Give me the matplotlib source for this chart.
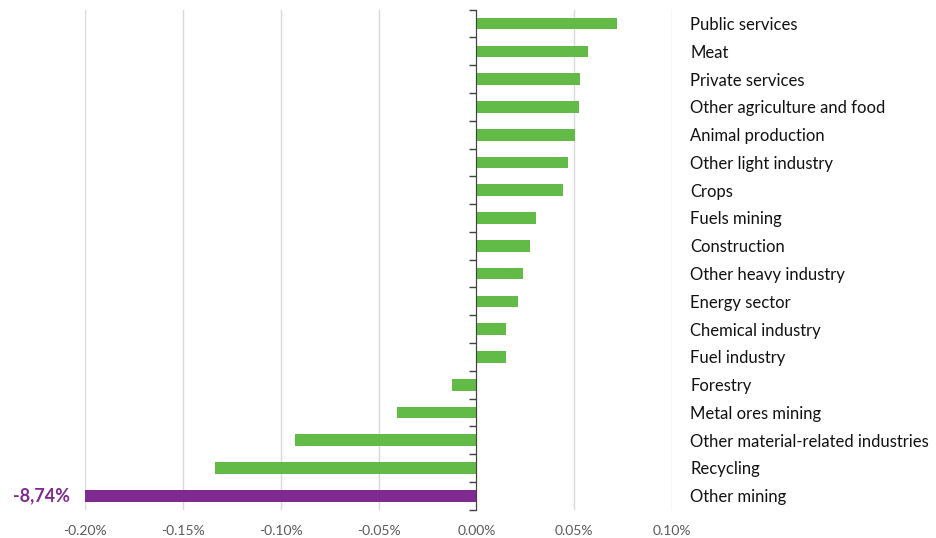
import numpy as np
import matplotlib.pyplot as plt

# Sector impacts, % change (top to bottom)
sectors = ['Public services', 'Meat', 'Private services', 'Other agriculture and food',
           'Animal production', 'Other light industry', 'Crops', 'Fuels mining',
           'Construction', 'Other heavy industry', 'Energy sector', 'Chemical industry',
           'Fuel industry', 'Forestry', 'Metal ores mining',
           'Other material-related industries', 'Recycling', 'Other mining']
values = [0.0720, 0.0572, 0.0531, 0.0524, 0.0502, 0.0469, 0.0441, 0.0305,
          0.0275, 0.0239, 0.0213, 0.0154, 0.0150, -0.0126, -0.0405,
          -0.0925, -0.1338, -8.74]
xticks = [-0.20, -0.15, -0.10, -0.05, 0.0, 0.05, 0.10]

green = '#62BB46'
purple = '#7F2A8E'
colors = [green] * (len(values) - 1) + [purple]

plt.rcParams['font.family'] = ['Lato', 'DejaVu Sans']

fig = plt.figure(figsize=(9.37, 5.38), dpi=100)
ax = fig.add_axes([0.0907, 0.0526, 0.6265, 0.9294])

y = np.arange(len(sectors))
ax.barh(y, values, height=0.42, color=colors, zorder=2)

ax.set_xlim(-0.20, 0.10)
ax.set_ylim(len(sectors) - 0.5, -0.5)

ax.set_xticks(xticks)
ax.set_xticklabels([f'{v:.2f}%' for v in xticks], color='#595959', fontsize=10)
ax.tick_params(axis='x', length=0, pad=11)
ax.grid(axis='x', color='#D9D9D9', linewidth=1, zorder=0)

for s in ['top', 'right', 'bottom']:
    ax.spines[s].set_visible(False)
ax.spines['left'].set_position(('data', 0))
ax.spines['left'].set_color('#404040')
ax.spines['left'].set_zorder(3)
ax.set_yticks(np.arange(-0.5, len(sectors)))
ax.set_yticklabels([])
ax.tick_params(axis='y', length=5, width=1, color='#404040', direction='out')

for i, name in enumerate(sectors):
    ax.annotate(name, xy=(1, i), xycoords=('axes fraction', 'data'),
                xytext=(13, -1), textcoords='offset points',
                ha='left', va='center', fontsize=12, color='#111111')

# value of the truncated bar
ax.annotate('-8,74%', xy=(0, len(sectors) - 1), xycoords=('axes fraction', 'data'),
            xytext=(-11, 0), textcoords='offset points', ha='right', va='center',
            fontsize=13, fontweight='bold', color=purple)

fig.savefig('out.png', dpi=100)
